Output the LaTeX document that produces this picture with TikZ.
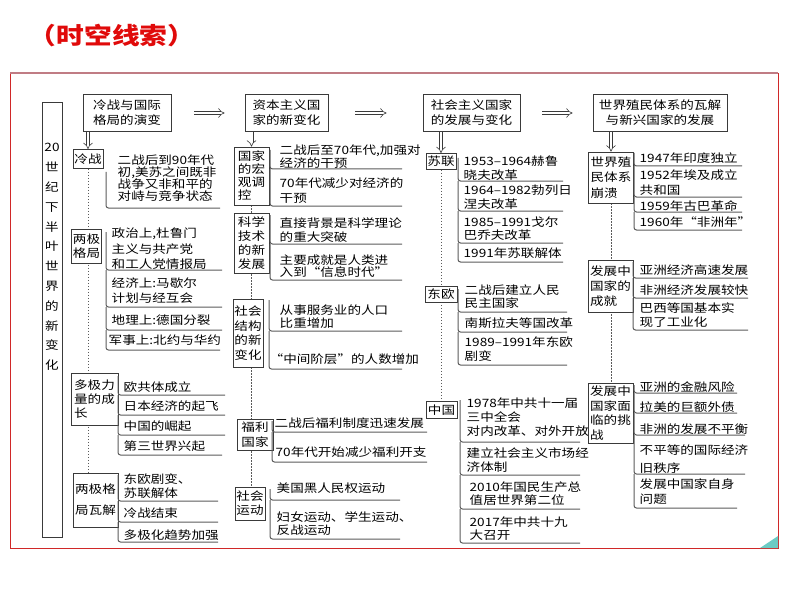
\documentclass[tikz,border=0pt]{standalone}
\usepackage{fontspec}
\setmainfont{Noto Sans CJK SC}[FakeStretch=1.18]
\usetikzlibrary{arrows.meta,positioning,backgrounds}
\definecolor{FrameRed}{HTML}{D02828}
\definecolor{FrameTop}{HTML}{C07C84}
\definecolor{TitleRed}{HTML}{E00A0A}
\definecolor{BoxLine}{HTML}{3A3A3A}
\definecolor{RuleGray}{HTML}{5A5A5A}
\definecolor{CornerTeal}{HTML}{6CCBC4}
\tikzset{
  headbox/.style={draw=BoxLine, line width=0.9pt, fill=white, align=center, inner sep=1pt, font=\fontsize{11.5}{15}\selectfont},
  catbox/.style={draw=BoxLine, line width=0.8pt, fill=white, align=center, inner sep=1pt},
  itemtext/.style={anchor=west, align=left, inner sep=0.5pt},
  uline/.style={draw=RuleGray, line width=1pt, rounded corners=2.5pt},
  dblarrow/.style={double=white, draw=BoxLine, double distance=2.8pt, line width=0.6pt, -{Implies}},
  dotline/.style={draw=RuleGray, line width=0.9pt, dash pattern=on 1.2pt off 1.8pt}
}

\begin{document}
\begin{tikzpicture}[x=1pt, y=-1pt, font=\fontsize{11.5}{14}\selectfont]
    \useasboundingbox (0,0) rectangle (794,596);

    % frame and title
    \draw[FrameRed, line width=0.8pt] (10,73) rectangle (778,548);
    \draw[FrameTop, line width=2pt] (10,73) -- (778,73);
    \fill[CornerTeal] (760,548) -- (778,536) -- (778,548) -- cycle;
    \node[text=TitleRed, font=\fontsize{23.5}{26}\selectfont\bfseries] (title) at (112,36) {（时空线索）};

    % side column
    \node[catbox, minimum width=20, minimum height=435] (side) at (52,319.5) {};
    \node[align=center, inner sep=0, font=\fontsize{11.5}{19.8}\selectfont] (sidetext) at (52,257)
      {20\\世\\纪\\下\\半\\叶\\世\\界\\的\\新\\变\\化};

    % headers
    \node[headbox, minimum width=88, minimum height=37] (cold) at (127,113) {冷战与国际\\格局的演变};
    \node[headbox, minimum width=83, minimum height=37] (capit) at (286.5,113) {资本主义国\\家的新变化};
    \node[headbox, minimum width=97, minimum height=37] (social) at (471.5,113) {社会主义国家\\的发展与变化};
    \node[headbox, minimum width=134, minimum height=37] (colony) at (660,113) {世界殖民体系的瓦解\\与新兴国家的发展};

    \draw[dblarrow, shorten <=23pt, shorten >=20pt] (cold) -- (capit);
    \draw[dblarrow, shorten <=27pt, shorten >=36pt] (capit) -- (social);
    \draw[dblarrow, shorten <=22pt, shorten >=20pt] (social) -- (colony);

    % column 1
    \node[catbox, minimum width=30, minimum height=19] (lz) at (88,159) {冷战};
    \node[itemtext, font=\fontsize{11.5}{12}\selectfont] (lzdef) at (117,178) {二战后到90年代\\初,美苏之间既非\\战争又非和平的\\对峙与竞争状态};
    \draw[uline] (106,172) |- (220,208);

    \node[catbox, minimum width=30, minimum height=34] (ljgj) at (86.5,246) {两极\\格局};
    \node[itemtext, font=\fontsize{11.5}{15.5}\selectfont] (zz) at (111,249) {政治上,杜鲁门\\主义与共产党\\和工人党情报局};
    \node[itemtext, font=\fontsize{11.5}{15}\selectfont] (jj) at (111,290.5) {经济上:马歇尔\\计划与经互会};
    \node[itemtext] (dl) at (111,320) {地理上:德国分裂};
    \node[itemtext] (js) at (108,340) {军事上:北约与华约};
    \draw[uline] (106,232) |- (222,270) (106,270) |- (222,307) (106,307) |- (222,330) (106,330) |- (220,350);

    \node[catbox, align=left, minimum width=47, minimum height=52] (djl) at (94.5,399) {多极力\\量的成\\长};
    \node[itemtext] (ogt) at (123,387) {欧共体成立};
    \node[itemtext] (rb) at (123,406) {日本经济的起飞};
    \node[itemtext] (zgjq) at (123,426) {中国的崛起};
    \node[itemtext] (dsj) at (123,446) {第三世界兴起};
    \draw[uline] (118,376) |- (225,395) (118,395) |- (225,415) (118,415) |- (225,435) (118,435) |- (222,455);

    \node[catbox, minimum width=45, minimum height=54, font=\fontsize{11.5}{21}\selectfont] (lwj) at (95.5,500) {两极格\\局瓦解};
    \node[itemtext] (dobj) at (123,486) {东欧剧变、\\苏联解体};
    \node[itemtext] (lzjs) at (123,513) {冷战结束};
    \node[itemtext] (djh) at (123,535) {多极化趋势加强};
    \draw[uline] (118,475) |- (218,501) (118,501) |- (218,522) (118,522) |- (218,542);

    % column 2
    \node[catbox, align=left, minimum width=35, minimum height=58, font=\fontsize{11.5}{13}\selectfont] (hg) at (251.5,176) {国家\\的宏\\观调\\控};
    \node[itemtext, font=\fontsize{11.5}{13}\selectfont] (gy1) at (279,156.5) {二战后至70年代,加强对\\经济的干预};
    \node[itemtext, font=\fontsize{11.5}{15}\selectfont] (gy2) at (279,190.5) {70年代减少对经济的\\干预};
    \draw[uline] (270,150) |- (402,169) (270,169) |- (402,206);

    \node[catbox, align=left, minimum width=35, minimum height=60] (kj) at (251.5,243) {科学\\技术\\的新\\发展};
    \node[itemtext] (kj1) at (279,230) {直接背景是科学理论\\的重大突破};
    \node[itemtext, font=\fontsize{11.5}{12.5}\selectfont] (kj2) at (279,266) {主要成就是人类进\\入到“信息时代”};
    \draw[uline] (270,215) |- (402,244) (270,244) |- (402,280);

    \node[catbox, minimum width=30, minimum height=68, font=\fontsize{11.5}{14.5}\selectfont] (sh) at (248,333) {社会\\结构\\的新\\变化};
    \node[itemtext, font=\fontsize{11.5}{13}\selectfont] (sh1) at (279,316.5) {从事服务业的人口\\比重增加};
    \node[itemtext] (sh2) at (269,359) {“中间阶层”的人数增加};
    \draw[uline] (269,300) |- (402,331) (269,331) |- (402,369);

    \node[catbox, minimum width=36, minimum height=31, font=\fontsize{11.5}{15}\selectfont] (fl) at (255,435) {福利\\国家};
    \node[itemtext] (fl1) at (274,423) {二战后福利制度迅速发展};
    \node[itemtext] (fl2) at (275,452) {70年代开始减少福利开支};
    \draw[uline] (272,421) |- (427,432) (272,432) |- (427,462);

    \node[catbox, minimum width=30, minimum height=33] (yd) at (250,503.5) {社会\\运动};
    \node[itemtext] (yd1) at (276,488) {美国黑人民权运动};
    \node[itemtext, font=\fontsize{11.5}{13}\selectfont] (yd2) at (276,523.5) {妇女运动、学生运动、\\反战运动};
    \draw[uline] (270,489) |- (400,500) (270,500) |- (400,539);

    % column 3
    \node[catbox, minimum width=30, minimum height=16] (sl) at (441,161.5) {苏联};
    \node[itemtext] (sl1) at (463,168) {1953–1964赫鲁\\晓夫改革};
    \node[itemtext] (sl2) at (463,197) {1964–1982勃列日\\涅夫改革};
    \node[itemtext, font=\fontsize{11.5}{13}\selectfont] (sl3) at (463,228.5) {1985–1991戈尔\\巴乔夫改革};
    \node[itemtext] (sl4) at (463,253) {1991年苏联解体};
    \draw[uline] (458,158) |- (563,181) (458,181) |- (563,211) (458,211) |- (563,243) (458,243) |- (563,262);

    \node[catbox, minimum width=32, minimum height=16] (do) at (441,294.5) {东欧};
    \node[itemtext, font=\fontsize{11.5}{13}\selectfont] (do1) at (464,296.5) {二战后建立人民\\民主国家};
    \node[itemtext] (do2) at (464,323) {南斯拉夫等国改革};
    \node[itemtext] (do3) at (464,349) {1989–1991年东欧\\剧变};
    \draw[uline] (458,289) |- (567,312) (458,312) |- (567,332) (458,332) |- (567,365);

    \node[catbox, minimum width=31, minimum height=17] (zg) at (441.5,410) {中国};
    \node[itemtext] (zg1) at (466,417.5) {1978年中共十一届\\三中全会\\对内改革、对外开放};
    \node[itemtext] (zg2) at (466,460.5) {建立社会主义市场经\\济体制};
    \node[itemtext, font=\fontsize{11.5}{13}\selectfont] (zg3) at (469,493.5) {2010年国民生产总\\值居世界第二位};
    \node[itemtext, font=\fontsize{11.5}{13}\selectfont] (zg4) at (469,528.5) {2017年中共十九\\大召开};
    \draw[uline] (460,400) |- (580,442) (460,442) |- (580,475) (460,475) |- (580,509) (460,509) |- (580,543);

    % column 4
    \node[catbox, align=left, minimum width=45, minimum height=51, font=\fontsize{11.5}{15.5}\selectfont] (bk) at (611,177.5) {世界殖\\民体系\\崩溃};
    \node[itemtext] (bk1) at (639,158) {1947年印度独立};
    \node[itemtext, font=\fontsize{11.5}{15}\selectfont] (bk2) at (639,182.5) {1952年埃及成立\\共和国};
    \node[itemtext] (bk3) at (639,206) {1959年古巴革命};
    \node[itemtext] (bk4) at (639,222) {1960年“非洲年”};
    \draw[uline] (634,153) |- (742,166) (634,166) |- (742,197) (634,197) |- (742,212) (634,212) |- (742,230);

    \node[catbox, align=left, minimum width=45, minimum height=52, font=\fontsize{11.5}{15}\selectfont] (cj) at (610.5,286) {发展中\\国家的\\成就};
    \node[itemtext] (cj1) at (639,270) {亚洲经济高速发展};
    \node[itemtext] (cj2) at (639,290) {非洲经济发展较快};
    \node[itemtext] (cj3) at (639,315) {巴西等国基本实\\现了工业化};
    \draw[uline] (633,262) |- (748,278) (633,278) |- (748,298) (633,298) |- (748,330);

    \node[catbox, align=left, minimum width=45, minimum height=60, font=\fontsize{11.5}{14.7}\selectfont] (tz) at (610.5,413) {发展中\\国家面\\临的挑\\战};
    \node[itemtext] (tz1) at (639,387) {亚洲的金融风险};
    \node[itemtext] (tz2) at (639,407) {拉美的巨额外债};
    \node[itemtext] (tz3) at (639,429) {非洲的发展不平衡};
    \node[itemtext, font=\fontsize{11.5}{18}\selectfont] (tz4) at (639,459) {不平等的国际经济\\旧秩序};
    \node[itemtext, font=\fontsize{11.5}{15}\selectfont] (tz5) at (639,491.5) {发展中国家自身\\问题};
    \draw[uline] (634,385) |- (737,393) (634,393) |- (737,413) (634,413) |- (745,435) (634,435) |- (745,474) (634,474) |- (737,508);

    % down arrows
    \draw[dblarrow] (lz |- cold.south) -- (lz.north);
    \draw[dblarrow] (hg |- capit.south) -- (hg.north);
    \draw[dblarrow] (sl |- social.south) -- (sl.north);
    \draw[dblarrow] (bk |- colony.south) -- (bk.north);

    % dotted spines
    \begin{scope}[on background layer]
      \draw[dotline] (lz.south) -- (lz.south |- lwj.north);
      \draw[dotline] (hg.south) -- (hg.south |- yd.north);
      \draw[dotline] (sl.south) -- (sl.south |- zg.north);
      \draw[dotline] (bk.south) -- (bk.south |- tz.north);
    \end{scope}
\end{tikzpicture}
\end{document}
